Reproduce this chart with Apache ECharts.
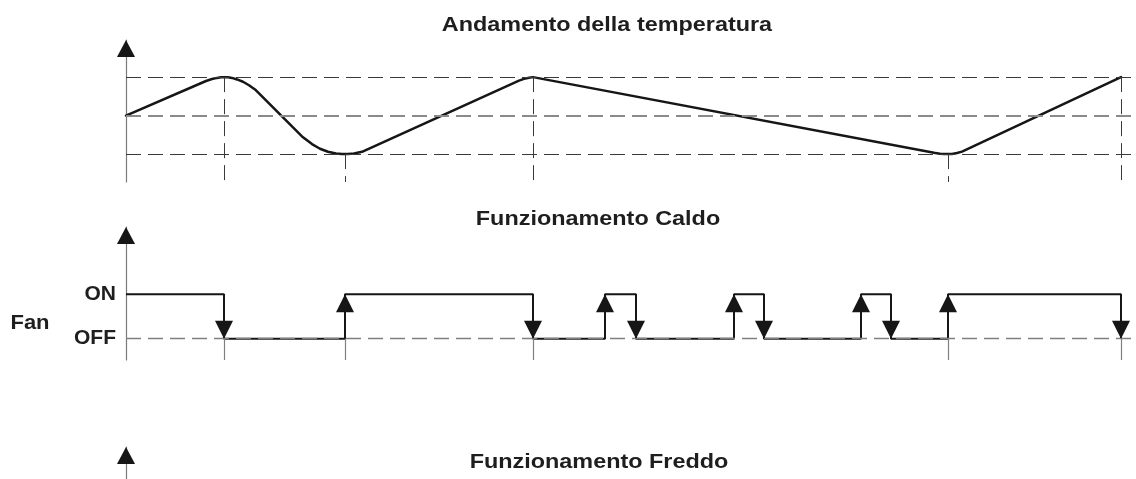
<!DOCTYPE html>
<html>
<head>
<meta charset="utf-8">
<title>Andamento della temperatura</title>
<script src="https://cdn.jsdelivr.net/npm/echarts@6.0.0/dist/echarts.min.js"></script>
<style>
  html, body { margin: 0; padding: 0; background: #ffffff; }
  #chart { width: 1136px; height: 479px; }
</style>
</head>
<body>
<div id="chart"></div>
<script>
// ---- data -------------------------------------------------------------
// Temperature profile (time units, °C)
const tempX = [0, 80, 86, 91, 95, 98, 102, 106, 111, 117, 123, 129, 154, 176, 186, 194, 202, 210, 216, 222, 228, 236,
               393, 398, 403, 407, 808, 814, 818, 822, 826, 831, 836, 995];
const tempY = [20.0, 21.8, 21.9, 21.96, 21.99, 22.0, 21.99, 21.96, 21.88, 21.76, 21.58, 21.36, 20.06, 18.92, 18.52, 18.28, 18.12, 18.03, 18.0, 18.0, 18.03, 18.12,
               21.82, 21.91, 21.97, 22.0, 18.07, 18.02, 18.0, 18.0, 18.01, 18.06, 18.13, 22.0];

// Reference levels: lower threshold, setpoint, upper threshold
const tempLevels = [18, 20, 22];

// Turning points of the temperature (time, value)
const extremaX = [98, 219, 407, 822, 995];
const extremaT = [22, 18, 22, 18, 22];

// Fan switching instants and the state entered at each instant (1 = ON, 0 = OFF)
const fanX = [0, 98, 219, 407, 479, 510, 608, 638, 735, 765, 822, 995];
const fanState = [1, 0, 1, 0, 1, 0, 1, 0, 1, 0, 1, 0];

// Text
const panelTitles = ['Andamento della temperatura', 'Funzionamento Caldo', 'Funzionamento Freddo'];
const stateLabels = ['OFF', 'ON'];
const fanLabel = 'Fan';

// ---- scales -----------------------------------------------------------
const X_MAX = 1010;
const T_MIN = 16.55, T_MAX = 23.93;
const F_MIN = -0.48, F_MAX = 2.51;

const INK = '#161616';
const AXIS_GREY = '#7a7a7a';
const FONT = '"Liberation Sans", Arial, Helvetica, sans-serif';
const DASH = [15, 7];

// ---- derived series data ----------------------------------------------
const tempData = tempX.map((x, i) => [x, tempY[i]]);
const fanData = fanX.map((x, i) => [x, fanState[i]]);
const risingEdges = fanX.filter((x, i) => i > 0 && fanState[i] === 1).map(x => [x, 1]);
const fallingEdges = fanX.filter((x, i) => i > 0 && fanState[i] === 0).map(x => [x, 0]);

const levelLines = tempLevels.map(v => ({
  yAxis: v,
  lineStyle: v === 20
    ? { color: '#8a8a8a', width: 2, type: DASH }
    : { color: '#3a3a3a', width: 1, type: DASH }
}));
const tempGuides = extremaX.map((x, i) => [
  { coord: [x, extremaT[i]] },
  { coord: [x, T_MIN] }
]);
const fanGuides = extremaX.map(x => [
  { coord: [x, 0] },
  { coord: [x, F_MIN] }
]);

function hiddenX(idx) {
  return { type: 'value', gridIndex: idx, min: 0, max: X_MAX, show: false };
}
function arrowAxis(idx, min, max, extra) {
  return Object.assign({
    type: 'value', gridIndex: idx, min: min, max: max,
    axisLine: { show: true, lineStyle: { color: AXIS_GREY, width: 1.2 } },
    axisTick: { show: false },
    axisLabel: { show: false },
    splitLine: { show: false }
  }, extra || {});
}
function arrowHeads(idx, data, size, rotate, offsetY) {
  return {
    type: 'scatter', xAxisIndex: idx, yAxisIndex: idx, silent: true, clip: false, z: 5,
    symbol: 'triangle', symbolSize: size, symbolRotate: rotate, symbolOffset: [0, offsetY],
    itemStyle: { color: INK, opacity: 1 },
    data: data
  };
}

const chart = echarts.init(document.getElementById('chart'), null, { renderer: 'canvas' });

chart.setOption({
  backgroundColor: '#ffffff',
  animation: false,
  grid: [
    { left: 126, right: 0, top: 40, height: 142, outerBoundsMode: 'none' },
    { left: 126, right: 0, top: 227, height: 133, outerBoundsMode: 'none' },
    { left: 126, right: 0, top: 447, height: 32, outerBoundsMode: 'none' }
  ],
  xAxis: [hiddenX(0), hiddenX(1), hiddenX(2)],
  yAxis: [
    arrowAxis(0, T_MIN, T_MAX),
    arrowAxis(1, F_MIN, F_MAX, {
      axisLabel: {
        show: true,
        customValues: [0, 1],
        formatter: v => stateLabels[Math.round(v)],
        margin: 10,
        color: '#1e1e1e',
        fontFamily: FONT,
        fontWeight: 'bold',
        fontSize: 21
      }
    }),
    arrowAxis(2, 0, 1)
  ],
  graphic: [
    { type: 'text', x: 607, y: 25, scaleX: 1.17, silent: true,
      style: { text: panelTitles[0], fill: '#1e1e1e', font: 'bold 20px ' + FONT, align: 'center', verticalAlign: 'middle' } },
    { type: 'text', x: 598, y: 219, scaleX: 1.17, silent: true,
      style: { text: panelTitles[1], fill: '#1e1e1e', font: 'bold 20px ' + FONT, align: 'center', verticalAlign: 'middle' } },
    { type: 'text', x: 599, y: 462, scaleX: 1.17, silent: true,
      style: { text: panelTitles[2], fill: '#1e1e1e', font: 'bold 20px ' + FONT, align: 'center', verticalAlign: 'middle' } },
    { type: 'text', x: 30, y: 323, scaleX: 1.1, silent: true,
      style: { text: fanLabel, fill: '#1e1e1e', font: 'bold 20px ' + FONT, align: 'center', verticalAlign: 'middle' } }
  ],
  series: [
    // temperature guides (thresholds and turning-point verticals)
    {
      type: 'line', xAxisIndex: 0, yAxisIndex: 0, data: [], z: 1, silent: true,
      markLine: {
        silent: true, symbol: ['none', 'none'], label: { show: false },
        lineStyle: { color: '#3a3a3a', width: 1, type: DASH },
        data: levelLines.concat(tempGuides)
      }
    },
    // temperature curve
    {
      type: 'line', xAxisIndex: 0, yAxisIndex: 0, data: tempData, z: 3,
      showSymbol: false, symbol: 'none', silent: true,
      lineStyle: { color: INK, width: 2.5, join: 'round', cap: 'round' }
    },
    arrowHeads(0, [[0, T_MAX]], [18, 17], 0, '50%'),

    // fan guides (OFF level and short verticals)
    {
      type: 'line', xAxisIndex: 1, yAxisIndex: 1, data: [], z: 1, silent: true,
      markLine: {
        silent: true, symbol: ['none', 'none'], label: { show: false },
        lineStyle: { color: '#808080', width: 1.2, type: 'solid' },
        data: [
          { yAxis: 0, lineStyle: { color: '#7f7f7f', width: 1.3, type: DASH } }
        ].concat(fanGuides)
      }
    },
    // fan state (heating mode)
    {
      type: 'line', xAxisIndex: 1, yAxisIndex: 1, data: fanData, step: 'end', z: 3,
      showSymbol: false, symbol: 'none', silent: true,
      lineStyle: { color: INK, width: 2 }
    },
    arrowHeads(1, risingEdges, [18, 18], 0, '50%'),
    arrowHeads(1, fallingEdges, [18, 18], 180, '-50%'),
    arrowHeads(1, [[0, F_MAX]], [18, 17], 0, '50%'),

    // cooling mode axis
    arrowHeads(2, [[0, 1]], [18, 17], 0, '50%')
  ]
});
</script>
</body>
</html>
